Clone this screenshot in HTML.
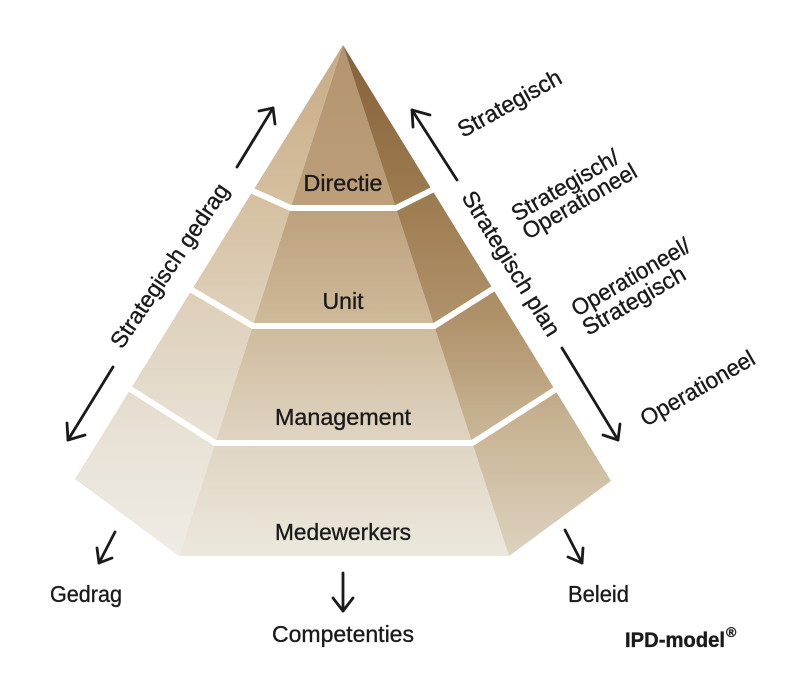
<!DOCTYPE html>
<html>
<head>
<meta charset="utf-8">
<style>
  html, body { margin: 0; padding: 0; background: #ffffff; }
  body { width: 800px; height: 688px; overflow: hidden; }
  svg { display: block; }
  text { font-family: "Liberation Sans", "DejaVu Sans", sans-serif; fill: #1a1a1a; stroke: #1a1a1a; stroke-width: 0.35; }
  text.n { paint-order: stroke; }
</style>
</head>
<body>
<svg width="800" height="688" viewBox="0 0 800 688" xmlns="http://www.w3.org/2000/svg">
  <defs>
    <linearGradient id="gFront" gradientUnits="userSpaceOnUse" x1="0" y1="45" x2="0" y2="556">
      <stop offset="0" stop-color="#b3946e"/>
      <stop offset="0.30" stop-color="#bc9e7a"/>
      <stop offset="0.53" stop-color="#cdb898"/>
      <stop offset="0.77" stop-color="#dfd4c2"/>
      <stop offset="1" stop-color="#ece8dd"/>
    </linearGradient>
    <linearGradient id="gLeft" gradientUnits="userSpaceOnUse" x1="0" y1="45" x2="0" y2="556">
      <stop offset="0" stop-color="#c8ab86"/>
      <stop offset="0.30" stop-color="#d5bf9f"/>
      <stop offset="0.53" stop-color="#dfd1bc"/>
      <stop offset="0.77" stop-color="#e8e2d6"/>
      <stop offset="1" stop-color="#efece5"/>
    </linearGradient>
    <linearGradient id="gRight" gradientUnits="userSpaceOnUse" x1="0" y1="45" x2="0" y2="556">
      <stop offset="0" stop-color="#85613a"/>
      <stop offset="0.30" stop-color="#9d7b50"/>
      <stop offset="0.53" stop-color="#af9169"/>
      <stop offset="0.77" stop-color="#cab798"/>
      <stop offset="1" stop-color="#ddd2c0"/>
    </linearGradient>
  </defs>

  <!-- Pyramid faces -->
  <polygon points="343,45 75,479 179,556" fill="url(#gLeft)"/>
  <polygon points="343,45 179,556 509,556" fill="url(#gFront)"/>
  <polygon points="343,45 509,556 611,481" fill="url(#gRight)"/>

  <!-- White separators -->
  <g fill="none" stroke="#ffffff" stroke-width="6" stroke-linejoin="miter">
    <polyline points="246,188 290.7,208 396,208 438,187"/>
    <polyline points="185,286 252.8,326 434.3,326 499,285"/>
    <polyline points="124,385 215.3,443 472.3,443 561,386"/>
  </g>

  <!-- Level labels -->
  <text class="n" x="343" y="191" font-size="23" text-anchor="middle" textLength="79" lengthAdjust="spacingAndGlyphs">Directie</text>
  <text class="n" x="343" y="309" font-size="23" text-anchor="middle" textLength="41" lengthAdjust="spacingAndGlyphs">Unit</text>
  <text class="n" x="343" y="425" font-size="23" text-anchor="middle" textLength="136" lengthAdjust="spacingAndGlyphs">Management</text>
  <text class="n" x="343" y="540" font-size="23" text-anchor="middle" textLength="136" lengthAdjust="spacingAndGlyphs">Medewerkers</text>

  <!-- Arrows -->
  <g fill="none" stroke="#1a1a1a" stroke-width="2.8" stroke-linecap="round" stroke-linejoin="round">
    <line x1="237" y1="167" x2="273" y2="108"/>
    <polyline points="259,111 273,108 275,124"/>
    <line x1="113" y1="367" x2="68" y2="440"/>
    <polyline points="67,423 68,440 85,435"/>
    <line x1="457" y1="180" x2="412" y2="110"/>
    <polyline points="430,115 412,110 413,127"/>
    <line x1="562" y1="348" x2="618" y2="440"/>
    <polyline points="603,435 618,440 620,424"/>
    <line x1="115" y1="532" x2="99" y2="563"/>
    <polyline points="97,548 99,563 112,558"/>
    <line x1="343" y1="573" x2="343" y2="611"/>
    <polyline points="333,598 343,611 353,598"/>
    <line x1="565" y1="530" x2="582" y2="563"/>
    <polyline points="568,557 582,563 583,548"/>
  </g>

  <!-- Side labels -->
  <text class="n" transform="translate(122,350) rotate(-56)" font-size="23" textLength="193" lengthAdjust="spacingAndGlyphs">Strategisch gedrag</text>
  <text class="n" transform="translate(461,197) rotate(58.3)" font-size="23" textLength="166" lengthAdjust="spacingAndGlyphs">Strategisch plan</text>

  <text class="n" transform="translate(463,138) rotate(-29)" font-size="23" textLength="115" lengthAdjust="spacingAndGlyphs">Strategisch</text>
  <text class="n" transform="translate(517,222) rotate(-30)" font-size="23" textLength="120" lengthAdjust="spacingAndGlyphs">Strategisch/</text>
  <text class="n" transform="translate(528,240) rotate(-30)" font-size="23" textLength="128" lengthAdjust="spacingAndGlyphs">Operationeel</text>
  <text class="n" transform="translate(577,317) rotate(-30)" font-size="23" textLength="133" lengthAdjust="spacingAndGlyphs">Operationeel/</text>
  <text class="n" transform="translate(588,336) rotate(-30)" font-size="23" textLength="115" lengthAdjust="spacingAndGlyphs">Strategisch</text>
  <text class="n" transform="translate(646,427) rotate(-30)" font-size="23" textLength="128" lengthAdjust="spacingAndGlyphs">Operationeel</text>

  <!-- Bottom labels -->
  <text class="n" x="50" y="602" font-size="23" textLength="72" lengthAdjust="spacingAndGlyphs">Gedrag</text>
  <text class="n" x="568" y="602" font-size="23" textLength="61" lengthAdjust="spacingAndGlyphs">Beleid</text>
  <text class="n" x="272" y="642" font-size="23" textLength="142" lengthAdjust="spacingAndGlyphs">Competenties</text>
  <text x="625" y="647" font-size="21" font-weight="bold" textLength="100" lengthAdjust="spacingAndGlyphs">IPD-model</text>
  <text x="726" y="637" font-size="14" font-weight="bold">®</text>
</svg>
</body>
</html>
